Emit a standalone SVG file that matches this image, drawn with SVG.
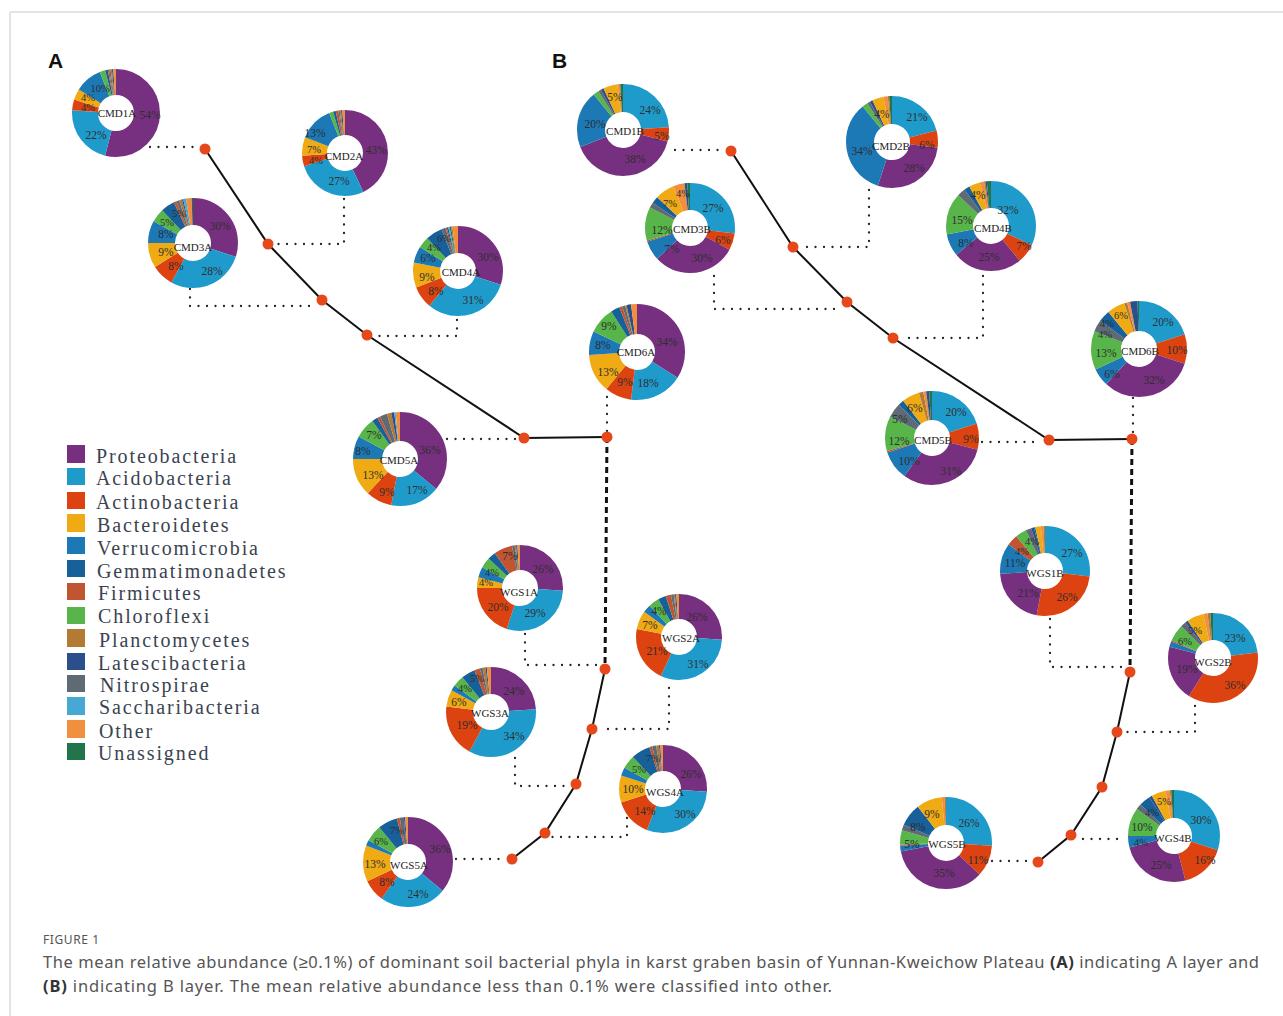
<svg xmlns="http://www.w3.org/2000/svg" width="1283" height="1016" viewBox="0 0 1283 1016">
<style>
circle{fill:none}
.pr{stroke:#77307F}.ac{stroke:#1F9BCB}.an{stroke:#DC4310}.bc{stroke:#EFAA14}.ve{stroke:#1D78B6}.ge{stroke:#18609A}.fi{stroke:#BF5531}.ch{stroke:#57B549}.pl{stroke:#B27A33}.la{stroke:#2B4F8C}.ni{stroke:#5E6A74}.sa{stroke:#48A8D4}.ot{stroke:#F18F3E}.un{stroke:#22744A}
.lb{font-family:"Liberation Serif","Times New Roman",serif;font-size:11.5px;fill:#2e2e2e;text-anchor:middle;dominant-baseline:central}
.sm{font-size:10.5px}
.nm{font-family:"Liberation Serif","Times New Roman",serif;font-size:11px;fill:#222;text-anchor:middle;dominant-baseline:central}
.tree{stroke:#111;stroke-width:2;fill:none}
.dash{stroke:#111;stroke-width:3;stroke-dasharray:6 4;fill:none}
.dl{stroke:#222;stroke-width:2.3;stroke-linecap:round;stroke-dasharray:0 8.5;fill:none}
.dot circle{fill:#E6471B}
.lg{font-family:"Liberation Serif","Times New Roman",serif;font-size:20px;letter-spacing:1.9px;fill:#3b4350}
.pan{font-family:"Liberation Sans",Arial,sans-serif;font-size:21px;font-weight:bold;fill:#111}
.cap{font-family:"Noto Sans","Liberation Sans",sans-serif;font-size:16.5px;fill:#555}
</style>
<rect width="1283" height="1016" fill="#fff"/>
<path d="M10,1016 V12 H1283" fill="none" stroke="#c8c8c8" stroke-width="1"/>
<text class="pan" x="48" y="68">A</text>
<text class="pan" x="552" y="68">B</text>

<g id="connectors">
<polyline class="tree" points="205,149 268,244 322,300 367,335 524,438 607,437"/>
<line class="dash" x1="607" y1="437" x2="605" y2="669"/>
<polyline class="tree" points="605,669 592,729 576,784 545,833 512,859"/>
<polyline class="tree" points="731,151 793,247 847,302 893,338 1049,440 1132,439"/>
<line class="dash" x1="1132" y1="439" x2="1130" y2="672"/>
<polyline class="tree" points="1130,672 1117,732 1102,787 1071,835 1038,862"/>
<path class="dl" d="M150,147 H200"/>
<path class="dl" d="M344,199 V244 H276"/>
<path class="dl" d="M190,289 V306 H316"/>
<path class="dl" d="M457,320 V336 H374"/>
<path class="dl" d="M447,439 H516"/>
<path class="dl" d="M607,397 V432"/>
<path class="dl" d="M525,634 V665 H598"/>
<path class="dl" d="M669,688 V729 H600"/>
<path class="dl" d="M515,758 V786 H568"/>
<path class="dl" d="M627,818 V837 H552"/>
<path class="dl" d="M456,859 H504"/>
<path class="dl" d="M675,150 H724"/>
<path class="dl" d="M869,190 V247 H801"/>
<path class="dl" d="M714,276 V309 H839"/>
<path class="dl" d="M983,276 V338 H901"/>
<path class="dl" d="M982,442 H1041"/>
<path class="dl" d="M1133,398 V433"/>
<path class="dl" d="M1050,619 V667 H1124"/>
<path class="dl" d="M1195,706 V732 H1125"/>
<path class="dl" d="M1083,839 H1120"/>
<path class="dl" d="M992,861 H1030"/>
<g class="dot">
<circle cx="205" cy="149" r="5.5"/><circle cx="268" cy="244" r="5.5"/><circle cx="322" cy="300" r="5.5"/><circle cx="367" cy="335" r="5.5"/><circle cx="524" cy="438" r="5.5"/><circle cx="607" cy="437" r="5.5"/><circle cx="605" cy="669" r="5.5"/><circle cx="592" cy="729" r="5.5"/><circle cx="576" cy="784" r="5.5"/><circle cx="545" cy="833" r="5.5"/><circle cx="512" cy="859" r="5.5"/>
<circle cx="731" cy="151" r="5.5"/><circle cx="793" cy="247" r="5.5"/><circle cx="847" cy="302" r="5.5"/><circle cx="893" cy="338" r="5.5"/><circle cx="1049" cy="440" r="5.5"/><circle cx="1132" cy="439" r="5.5"/><circle cx="1130" cy="672" r="5.5"/><circle cx="1117" cy="732" r="5.5"/><circle cx="1102" cy="787" r="5.5"/><circle cx="1071" cy="835" r="5.5"/><circle cx="1038" cy="862" r="5.5"/>
</g>
</g>

<g id="CMD1A">
<g transform="translate(116,113) rotate(-90)" stroke-width="26">
<circle class="pr" r="31" pathLength="100" stroke-dasharray="54 100" stroke-dashoffset="0"/>
<circle class="ac" r="31" pathLength="100" stroke-dasharray="22 100" stroke-dashoffset="-54"/>
<circle class="an" r="31" pathLength="100" stroke-dasharray="4 100" stroke-dashoffset="-76"/>
<circle class="bc" r="31" pathLength="100" stroke-dasharray="4 100" stroke-dashoffset="-80"/>
<circle class="ve" r="31" pathLength="100" stroke-dasharray="10 100" stroke-dashoffset="-84"/>
<circle class="ch" r="31" pathLength="100" stroke-dasharray="2 100" stroke-dashoffset="-94"/>
<circle class="ge" r="31" pathLength="100" stroke-dasharray="1 100" stroke-dashoffset="-96"/>
<circle class="fi" r="31" pathLength="100" stroke-dasharray="0.5 100" stroke-dashoffset="-97"/>
<circle class="ni" r="31" pathLength="100" stroke-dasharray="0.5 100" stroke-dashoffset="-97.5"/>
<circle class="pl" r="31" pathLength="100" stroke-dasharray="0.5 100" stroke-dashoffset="-98"/>
<circle class="la" r="31" pathLength="100" stroke-dasharray="0.5 100" stroke-dashoffset="-98.5"/>
<circle class="ot" r="31" pathLength="100" stroke-dasharray="1 100" stroke-dashoffset="-99"/>
</g>
<text class="lb sm" x="100" y="88">10%</text><text class="lb sm" x="88" y="97.5">4%</text><text class="lb sm" x="88" y="107">4%</text>
<text class="nm" x="117" y="113">CMD1A</text><text class="lb" x="150" y="115">54%</text><text class="lb" x="96" y="135">22%</text>
</g>

<g id="CMD2A">
<g transform="translate(345,153) rotate(-90)" stroke-width="25">
<circle class="pr" r="30.5" pathLength="100" stroke-dasharray="43 100" stroke-dashoffset="0"/>
<circle class="ac" r="30.5" pathLength="100" stroke-dasharray="27 100" stroke-dashoffset="-43"/>
<circle class="an" r="30.5" pathLength="100" stroke-dasharray="4 100" stroke-dashoffset="-70"/>
<circle class="bc" r="30.5" pathLength="100" stroke-dasharray="7 100" stroke-dashoffset="-74"/>
<circle class="ve" r="30.5" pathLength="100" stroke-dasharray="13 100" stroke-dashoffset="-81"/>
<circle class="ch" r="30.5" pathLength="100" stroke-dasharray="1.5 100" stroke-dashoffset="-94"/>
<circle class="ge" r="30.5" pathLength="100" stroke-dasharray="1 100" stroke-dashoffset="-95.5"/>
<circle class="fi" r="30.5" pathLength="100" stroke-dasharray="1 100" stroke-dashoffset="-96.5"/>
<circle class="ni" r="30.5" pathLength="100" stroke-dasharray="0.5 100" stroke-dashoffset="-97.5"/>
<circle class="pl" r="30.5" pathLength="100" stroke-dasharray="0.5 100" stroke-dashoffset="-98"/>
<circle class="la" r="30.5" pathLength="100" stroke-dasharray="0.5 100" stroke-dashoffset="-98.5"/>
<circle class="ot" r="30.5" pathLength="100" stroke-dasharray="1 100" stroke-dashoffset="-99"/>
</g>
<text class="lb" x="315" y="133">13%</text><text class="lb sm" x="314" y="149">7%</text><text class="lb sm" x="316" y="160">4%</text>
<text class="nm" x="344" y="156">CMD2A</text><text class="lb" x="376" y="150">43%</text><text class="lb" x="339" y="181">27%</text>
</g>

<g id="CMD3A">
<g transform="translate(193,243) rotate(-90)" stroke-width="27">
<circle class="pr" r="31.5" pathLength="100" stroke-dasharray="30 100" stroke-dashoffset="0"/>
<circle class="ac" r="31.5" pathLength="100" stroke-dasharray="28 100" stroke-dashoffset="-30"/>
<circle class="an" r="31.5" pathLength="100" stroke-dasharray="8 100" stroke-dashoffset="-58"/>
<circle class="bc" r="31.5" pathLength="100" stroke-dasharray="9 100" stroke-dashoffset="-66"/>
<circle class="ve" r="31.5" pathLength="100" stroke-dasharray="8 100" stroke-dashoffset="-75"/>
<circle class="ch" r="31.5" pathLength="100" stroke-dasharray="5 100" stroke-dashoffset="-83"/>
<circle class="ge" r="31.5" pathLength="100" stroke-dasharray="5 100" stroke-dashoffset="-88"/>
<circle class="fi" r="31.5" pathLength="100" stroke-dasharray="1 100" stroke-dashoffset="-93"/>
<circle class="ni" r="31.5" pathLength="100" stroke-dasharray="1 100" stroke-dashoffset="-94"/>
<circle class="pl" r="31.5" pathLength="100" stroke-dasharray="1 100" stroke-dashoffset="-95"/>
<circle class="la" r="31.5" pathLength="100" stroke-dasharray="0.5 100" stroke-dashoffset="-96"/>
<circle class="sa" r="31.5" pathLength="100" stroke-dasharray="1 100" stroke-dashoffset="-96.5"/>
<circle class="ot" r="31.5" pathLength="100" stroke-dasharray="2 100" stroke-dashoffset="-97.5"/>
<circle class="un" r="31.5" pathLength="100" stroke-dasharray="0.5 100" stroke-dashoffset="-99.5"/>
</g>
<text class="lb" x="220" y="226">30%</text><text class="lb sm" x="179" y="213">5%</text><text class="lb sm" x="167" y="222.5">5%</text><text class="lb" x="166" y="234">8%</text>
<text class="nm" x="193" y="247">CMD3A</text><text class="lb" x="166" y="252">9%</text><text class="lb" x="176" y="266">8%</text><text class="lb" x="212" y="271">28%</text>
</g>

<g id="CMD4A">
<g transform="translate(458,271) rotate(-90)" stroke-width="27">
<circle class="pr" r="31.5" pathLength="100" stroke-dasharray="30 100" stroke-dashoffset="0"/>
<circle class="ac" r="31.5" pathLength="100" stroke-dasharray="31 100" stroke-dashoffset="-30"/>
<circle class="an" r="31.5" pathLength="100" stroke-dasharray="8 100" stroke-dashoffset="-61"/>
<circle class="bc" r="31.5" pathLength="100" stroke-dasharray="9 100" stroke-dashoffset="-69"/>
<circle class="ve" r="31.5" pathLength="100" stroke-dasharray="6 100" stroke-dashoffset="-78"/>
<circle class="ch" r="31.5" pathLength="100" stroke-dasharray="4 100" stroke-dashoffset="-84"/>
<circle class="ge" r="31.5" pathLength="100" stroke-dasharray="6 100" stroke-dashoffset="-88"/>
<circle class="ni" r="31.5" pathLength="100" stroke-dasharray="1.5 100" stroke-dashoffset="-94"/>
<circle class="fi" r="31.5" pathLength="100" stroke-dasharray="0.5 100" stroke-dashoffset="-95.5"/>
<circle class="la" r="31.5" pathLength="100" stroke-dasharray="0.5 100" stroke-dashoffset="-96"/>
<circle class="sa" r="31.5" pathLength="100" stroke-dasharray="0.5 100" stroke-dashoffset="-96.5"/>
<circle class="un" r="31.5" pathLength="100" stroke-dasharray="0.5 100" stroke-dashoffset="-97"/>
<circle class="pl" r="31.5" pathLength="100" stroke-dasharray="0.5 100" stroke-dashoffset="-97.5"/>
<circle class="ot" r="31.5" pathLength="100" stroke-dasharray="2 100" stroke-dashoffset="-98"/>
</g>
<text class="lb sm" x="444" y="238">6%</text><text class="lb sm" x="434" y="247.5">4%</text><text class="lb" x="488" y="257">30%</text><text class="lb" x="428" y="258">6%</text>
<text class="nm" x="461" y="272">CMD4A</text><text class="lb" x="427" y="277">9%</text><text class="lb" x="436" y="291">8%</text><text class="lb" x="473" y="300">31%</text>
</g>

<g id="CMD5A">
<g transform="translate(400,459) rotate(-90)" stroke-width="29">
<circle class="pr" r="32.5" pathLength="100" stroke-dasharray="36 100" stroke-dashoffset="0"/>
<circle class="ac" r="32.5" pathLength="100" stroke-dasharray="17 100" stroke-dashoffset="-36"/>
<circle class="an" r="32.5" pathLength="100" stroke-dasharray="9 100" stroke-dashoffset="-53"/>
<circle class="bc" r="32.5" pathLength="100" stroke-dasharray="13 100" stroke-dashoffset="-62"/>
<circle class="ve" r="32.5" pathLength="100" stroke-dasharray="8 100" stroke-dashoffset="-75"/>
<circle class="ch" r="32.5" pathLength="100" stroke-dasharray="7 100" stroke-dashoffset="-83"/>
<circle class="ge" r="32.5" pathLength="100" stroke-dasharray="2 100" stroke-dashoffset="-90"/>
<circle class="fi" r="32.5" pathLength="100" stroke-dasharray="1 100" stroke-dashoffset="-92"/>
<circle class="ni" r="32.5" pathLength="100" stroke-dasharray="2.5 100" stroke-dashoffset="-93"/>
<circle class="pl" r="32.5" pathLength="100" stroke-dasharray="1.5 100" stroke-dashoffset="-95.5"/>
<circle class="la" r="32.5" pathLength="100" stroke-dasharray="1 100" stroke-dashoffset="-97"/>
<circle class="sa" r="32.5" pathLength="100" stroke-dasharray="0.5 100" stroke-dashoffset="-98"/>
<circle class="ot" r="32.5" pathLength="100" stroke-dasharray="1.5 100" stroke-dashoffset="-98.5"/>
</g>
<text class="lb" x="374" y="435">7%</text><text class="lb" x="363" y="451">8%</text><text class="lb" x="430" y="450">36%</text>
<text class="nm" x="399" y="460">CMD5A</text><text class="lb" x="373" y="475">13%</text><text class="lb" x="387" y="492">9%</text><text class="lb" x="417" y="490">17%</text>
</g>

<g id="CMD6A">
<g transform="translate(637,352) rotate(-90)" stroke-width="30">
<circle class="pr" r="33" pathLength="100" stroke-dasharray="34 100" stroke-dashoffset="0"/>
<circle class="ac" r="33" pathLength="100" stroke-dasharray="18 100" stroke-dashoffset="-34"/>
<circle class="an" r="33" pathLength="100" stroke-dasharray="9 100" stroke-dashoffset="-52"/>
<circle class="bc" r="33" pathLength="100" stroke-dasharray="13 100" stroke-dashoffset="-61"/>
<circle class="ve" r="33" pathLength="100" stroke-dasharray="8 100" stroke-dashoffset="-74"/>
<circle class="ch" r="33" pathLength="100" stroke-dasharray="9 100" stroke-dashoffset="-82"/>
<circle class="ge" r="33" pathLength="100" stroke-dasharray="3 100" stroke-dashoffset="-91"/>
<circle class="fi" r="33" pathLength="100" stroke-dasharray="1 100" stroke-dashoffset="-94"/>
<circle class="ni" r="33" pathLength="100" stroke-dasharray="1 100" stroke-dashoffset="-95"/>
<circle class="pl" r="33" pathLength="100" stroke-dasharray="0.5 100" stroke-dashoffset="-96"/>
<circle class="la" r="33" pathLength="100" stroke-dasharray="1.5 100" stroke-dashoffset="-96.5"/>
<circle class="ot" r="33" pathLength="100" stroke-dasharray="2 100" stroke-dashoffset="-98"/>
</g>
<text class="lb" x="609" y="326">9%</text><text class="lb" x="667" y="342">34%</text><text class="lb" x="603" y="345">8%</text>
<text class="nm" x="636" y="352">CMD6A</text><text class="lb" x="608" y="372">13%</text><text class="lb" x="625" y="382">9%</text><text class="lb" x="648" y="383">18%</text>
</g>

<g id="WGS1A">
<g transform="translate(520,588) rotate(-90)" stroke-width="25">
<circle class="pr" r="30.5" pathLength="100" stroke-dasharray="26 100" stroke-dashoffset="0"/>
<circle class="ac" r="30.5" pathLength="100" stroke-dasharray="29 100" stroke-dashoffset="-26"/>
<circle class="an" r="30.5" pathLength="100" stroke-dasharray="20 100" stroke-dashoffset="-55"/>
<circle class="bc" r="30.5" pathLength="100" stroke-dasharray="4 100" stroke-dashoffset="-75"/>
<circle class="ve" r="30.5" pathLength="100" stroke-dasharray="4 100" stroke-dashoffset="-79"/>
<circle class="ch" r="30.5" pathLength="100" stroke-dasharray="4 100" stroke-dashoffset="-83"/>
<circle class="ge" r="30.5" pathLength="100" stroke-dasharray="3 100" stroke-dashoffset="-87"/>
<circle class="fi" r="30.5" pathLength="100" stroke-dasharray="7 100" stroke-dashoffset="-90"/>
<circle class="ni" r="30.5" pathLength="100" stroke-dasharray="1 100" stroke-dashoffset="-97"/>
<circle class="pl" r="30.5" pathLength="100" stroke-dasharray="0.5 100" stroke-dashoffset="-98"/>
<circle class="la" r="30.5" pathLength="100" stroke-dasharray="0.5 100" stroke-dashoffset="-98.5"/>
<circle class="ot" r="30.5" pathLength="100" stroke-dasharray="1 100" stroke-dashoffset="-99"/>
</g>
<text class="lb" x="510" y="556">7%</text><text class="lb" x="543" y="569">26%</text><text class="lb sm" x="492" y="572">4%</text><text class="lb sm" x="486" y="582.5">4%</text>
<text class="nm" x="519" y="592">WGS1A</text><text class="lb" x="498" y="607">20%</text><text class="lb" x="535" y="613">29%</text>
</g>

<g id="WGS2A">
<g transform="translate(679,637) rotate(-90)" stroke-width="25">
<circle class="pr" r="30.5" pathLength="100" stroke-dasharray="26 100" stroke-dashoffset="0"/>
<circle class="ac" r="30.5" pathLength="100" stroke-dasharray="31 100" stroke-dashoffset="-26"/>
<circle class="an" r="30.5" pathLength="100" stroke-dasharray="21 100" stroke-dashoffset="-57"/>
<circle class="bc" r="30.5" pathLength="100" stroke-dasharray="7 100" stroke-dashoffset="-78"/>
<circle class="ve" r="30.5" pathLength="100" stroke-dasharray="3 100" stroke-dashoffset="-85"/>
<circle class="ch" r="30.5" pathLength="100" stroke-dasharray="4 100" stroke-dashoffset="-88"/>
<circle class="ge" r="30.5" pathLength="100" stroke-dasharray="3 100" stroke-dashoffset="-92"/>
<circle class="fi" r="30.5" pathLength="100" stroke-dasharray="2 100" stroke-dashoffset="-95"/>
<circle class="ni" r="30.5" pathLength="100" stroke-dasharray="1 100" stroke-dashoffset="-97"/>
<circle class="pl" r="30.5" pathLength="100" stroke-dasharray="0.5 100" stroke-dashoffset="-98"/>
<circle class="la" r="30.5" pathLength="100" stroke-dasharray="0.5 100" stroke-dashoffset="-98.5"/>
<circle class="ot" r="30.5" pathLength="100" stroke-dasharray="1 100" stroke-dashoffset="-99"/>
</g>
<text class="lb" x="659" y="611">4%</text><text class="lb" x="697" y="617">26%</text><text class="lb" x="650" y="625">7%</text>
<text class="nm" x="681" y="638">WGS2A</text><text class="lb" x="657" y="651">21%</text><text class="lb" x="698" y="664">31%</text>
</g>

<g id="WGS3A">
<g transform="translate(491,712) rotate(-90)" stroke-width="27">
<circle class="pr" r="31.5" pathLength="100" stroke-dasharray="24 100" stroke-dashoffset="0"/>
<circle class="ac" r="31.5" pathLength="100" stroke-dasharray="34 100" stroke-dashoffset="-24"/>
<circle class="an" r="31.5" pathLength="100" stroke-dasharray="19 100" stroke-dashoffset="-58"/>
<circle class="bc" r="31.5" pathLength="100" stroke-dasharray="6 100" stroke-dashoffset="-77"/>
<circle class="ve" r="31.5" pathLength="100" stroke-dasharray="2 100" stroke-dashoffset="-83"/>
<circle class="ch" r="31.5" pathLength="100" stroke-dasharray="4 100" stroke-dashoffset="-85"/>
<circle class="ge" r="31.5" pathLength="100" stroke-dasharray="5 100" stroke-dashoffset="-89"/>
<circle class="fi" r="31.5" pathLength="100" stroke-dasharray="2 100" stroke-dashoffset="-94"/>
<circle class="ni" r="31.5" pathLength="100" stroke-dasharray="1 100" stroke-dashoffset="-96"/>
<circle class="pl" r="31.5" pathLength="100" stroke-dasharray="1 100" stroke-dashoffset="-97"/>
<circle class="la" r="31.5" pathLength="100" stroke-dasharray="0.5 100" stroke-dashoffset="-98"/>
<circle class="ot" r="31.5" pathLength="100" stroke-dasharray="1.5 100" stroke-dashoffset="-98.5"/>
</g>
<text class="lb sm" x="477" y="678">5%</text><text class="lb sm" x="465" y="688">4%</text><text class="lb" x="514" y="691">24%</text><text class="lb" x="459" y="702">6%</text>
<text class="nm" x="490" y="713">WGS3A</text><text class="lb" x="467" y="725">19%</text><text class="lb" x="514" y="736">34%</text>
</g>

<g id="WGS4A">
<g transform="translate(663,789) rotate(-90)" stroke-width="26">
<circle class="pr" r="31" pathLength="100" stroke-dasharray="26 100" stroke-dashoffset="0"/>
<circle class="ac" r="31" pathLength="100" stroke-dasharray="30 100" stroke-dashoffset="-26"/>
<circle class="an" r="31" pathLength="100" stroke-dasharray="14 100" stroke-dashoffset="-56"/>
<circle class="bc" r="31" pathLength="100" stroke-dasharray="10 100" stroke-dashoffset="-70"/>
<circle class="ve" r="31" pathLength="100" stroke-dasharray="3 100" stroke-dashoffset="-80"/>
<circle class="ch" r="31" pathLength="100" stroke-dasharray="5 100" stroke-dashoffset="-83"/>
<circle class="ge" r="31" pathLength="100" stroke-dasharray="7 100" stroke-dashoffset="-88"/>
<circle class="fi" r="31" pathLength="100" stroke-dasharray="1 100" stroke-dashoffset="-95"/>
<circle class="ni" r="31" pathLength="100" stroke-dasharray="1.5 100" stroke-dashoffset="-96"/>
<circle class="pl" r="31" pathLength="100" stroke-dasharray="1 100" stroke-dashoffset="-97.5"/>
<circle class="la" r="31" pathLength="100" stroke-dasharray="0.5 100" stroke-dashoffset="-98.5"/>
<circle class="ot" r="31" pathLength="100" stroke-dasharray="1 100" stroke-dashoffset="-99"/>
</g>
<text class="lb sm" x="653" y="758">7%</text><text class="lb sm" x="639" y="769">5%</text><text class="lb" x="691" y="774">26%</text><text class="lb" x="633" y="789">10%</text>
<text class="nm" x="665" y="792">WGS4A</text><text class="lb" x="645" y="811">14%</text><text class="lb" x="685" y="814">30%</text>
</g>

<g id="WGS5A">
<g transform="translate(408,862) rotate(-90)" stroke-width="27">
<circle class="pr" r="31.5" pathLength="100" stroke-dasharray="36 100" stroke-dashoffset="0"/>
<circle class="ac" r="31.5" pathLength="100" stroke-dasharray="24 100" stroke-dashoffset="-36"/>
<circle class="an" r="31.5" pathLength="100" stroke-dasharray="8 100" stroke-dashoffset="-60"/>
<circle class="bc" r="31.5" pathLength="100" stroke-dasharray="13 100" stroke-dashoffset="-68"/>
<circle class="ve" r="31.5" pathLength="100" stroke-dasharray="2 100" stroke-dashoffset="-81"/>
<circle class="ch" r="31.5" pathLength="100" stroke-dasharray="6 100" stroke-dashoffset="-83"/>
<circle class="ge" r="31.5" pathLength="100" stroke-dasharray="7 100" stroke-dashoffset="-89"/>
<circle class="fi" r="31.5" pathLength="100" stroke-dasharray="1 100" stroke-dashoffset="-96"/>
<circle class="ni" r="31.5" pathLength="100" stroke-dasharray="1.5 100" stroke-dashoffset="-97"/>
<circle class="la" r="31.5" pathLength="100" stroke-dasharray="0.5 100" stroke-dashoffset="-98.5"/>
<circle class="ot" r="31.5" pathLength="100" stroke-dasharray="1 100" stroke-dashoffset="-99"/>
</g>
<text class="lb sm" x="397" y="830">7%</text><text class="lb sm" x="381" y="841">6%</text><text class="lb" x="440" y="849">36%</text><text class="lb" x="375" y="864">13%</text>
<text class="nm" x="409" y="865">WGS5A</text><text class="lb" x="387" y="882">8%</text><text class="lb" x="418" y="894">24%</text>
</g>

<g id="CMD1B">
<g transform="translate(623,130) rotate(-90)" stroke-width="28">
<circle class="ac" r="32" pathLength="100" stroke-dasharray="24 100" stroke-dashoffset="0"/>
<circle class="an" r="32" pathLength="100" stroke-dasharray="5 100" stroke-dashoffset="-24"/>
<circle class="pr" r="32" pathLength="100" stroke-dasharray="40 100" stroke-dashoffset="-29"/>
<circle class="ve" r="32" pathLength="100" stroke-dasharray="20 100" stroke-dashoffset="-69"/>
<circle class="ch" r="32" pathLength="100" stroke-dasharray="2 100" stroke-dashoffset="-89"/>
<circle class="ni" r="32" pathLength="100" stroke-dasharray="1 100" stroke-dashoffset="-91"/>
<circle class="la" r="32" pathLength="100" stroke-dasharray="1 100" stroke-dashoffset="-92"/>
<circle class="bc" r="32" pathLength="100" stroke-dasharray="5 100" stroke-dashoffset="-93"/>
<circle class="ot" r="32" pathLength="100" stroke-dasharray="1 100" stroke-dashoffset="-98"/>
<circle class="un" r="32" pathLength="100" stroke-dasharray="1 100" stroke-dashoffset="-99"/>
</g>
<text class="lb" x="615" y="97">5%</text><text class="lb" x="650" y="110">24%</text><text class="lb" x="595" y="124">20%</text>
<text class="nm" x="625" y="131">CMD1B</text><text class="lb" x="662" y="136">5%</text><text class="lb" x="635" y="159">38%</text>
</g>

<g id="CMD2B">
<g transform="translate(892,142) rotate(-90)" stroke-width="28">
<circle class="ac" r="32" pathLength="100" stroke-dasharray="21 100" stroke-dashoffset="0"/>
<circle class="an" r="32" pathLength="100" stroke-dasharray="6 100" stroke-dashoffset="-21"/>
<circle class="pr" r="32" pathLength="100" stroke-dasharray="28 100" stroke-dashoffset="-27"/>
<circle class="ve" r="32" pathLength="100" stroke-dasharray="34 100" stroke-dashoffset="-55"/>
<circle class="ch" r="32" pathLength="100" stroke-dasharray="2 100" stroke-dashoffset="-89"/>
<circle class="ni" r="32" pathLength="100" stroke-dasharray="1 100" stroke-dashoffset="-91"/>
<circle class="la" r="32" pathLength="100" stroke-dasharray="1 100" stroke-dashoffset="-92"/>
<circle class="bc" r="32" pathLength="100" stroke-dasharray="4 100" stroke-dashoffset="-93"/>
<circle class="ot" r="32" pathLength="100" stroke-dasharray="1.5 100" stroke-dashoffset="-97"/>
<circle class="pl" r="32" pathLength="100" stroke-dasharray="0.5 100" stroke-dashoffset="-98.5"/>
<circle class="un" r="32" pathLength="100" stroke-dasharray="1 100" stroke-dashoffset="-99"/>
</g>
<text class="lb" x="882" y="114">4%</text><text class="lb" x="917" y="117">21%</text>
<text class="nm" x="891" y="146">CMD2B</text><text class="lb" x="862" y="151">34%</text><text class="lb" x="927" y="145">6%</text><text class="lb" x="914" y="168">28%</text>
</g>

<g id="CMD3B">
<g transform="translate(690,228) rotate(-90)" stroke-width="27">
<circle class="ac" r="31.5" pathLength="100" stroke-dasharray="27 100" stroke-dashoffset="0"/>
<circle class="an" r="31.5" pathLength="100" stroke-dasharray="6 100" stroke-dashoffset="-27"/>
<circle class="pr" r="31.5" pathLength="100" stroke-dasharray="30 100" stroke-dashoffset="-33"/>
<circle class="ve" r="31.5" pathLength="100" stroke-dasharray="7 100" stroke-dashoffset="-63"/>
<circle class="fi" r="31.5" pathLength="100" stroke-dasharray="0.5 100" stroke-dashoffset="-70"/>
<circle class="ch" r="31.5" pathLength="100" stroke-dasharray="12 100" stroke-dashoffset="-70.5"/>
<circle class="ni" r="31.5" pathLength="100" stroke-dasharray="2 100" stroke-dashoffset="-82.5"/>
<circle class="ge" r="31.5" pathLength="100" stroke-dasharray="2.5 100" stroke-dashoffset="-84.5"/>
<circle class="bc" r="31.5" pathLength="100" stroke-dasharray="7 100" stroke-dashoffset="-87"/>
<circle class="ot" r="31.5" pathLength="100" stroke-dasharray="4 100" stroke-dashoffset="-94"/>
<circle class="la" r="31.5" pathLength="100" stroke-dasharray="1 100" stroke-dashoffset="-98"/>
<circle class="un" r="31.5" pathLength="100" stroke-dasharray="1 100" stroke-dashoffset="-99"/>
</g>
<text class="lb sm" x="683" y="193">4%</text><text class="lb sm" x="670" y="203">7%</text><text class="lb" x="713" y="208">27%</text><text class="lb" x="662" y="230">12%</text>
<text class="nm" x="692" y="229">CMD3B</text><text class="lb" x="723" y="240">6%</text><text class="lb" x="672" y="249">7%</text><text class="lb" x="702" y="258">30%</text>
</g>

<g id="CMD4B">
<g transform="translate(991,226) rotate(-90)" stroke-width="27">
<circle class="ac" r="31.5" pathLength="100" stroke-dasharray="32 100" stroke-dashoffset="0"/>
<circle class="an" r="31.5" pathLength="100" stroke-dasharray="7 100" stroke-dashoffset="-32"/>
<circle class="pr" r="31.5" pathLength="100" stroke-dasharray="25 100" stroke-dashoffset="-39"/>
<circle class="ve" r="31.5" pathLength="100" stroke-dasharray="8 100" stroke-dashoffset="-64"/>
<circle class="ch" r="31.5" pathLength="100" stroke-dasharray="15 100" stroke-dashoffset="-72"/>
<circle class="ni" r="31.5" pathLength="100" stroke-dasharray="3 100" stroke-dashoffset="-87"/>
<circle class="ge" r="31.5" pathLength="100" stroke-dasharray="2 100" stroke-dashoffset="-90"/>
<circle class="bc" r="31.5" pathLength="100" stroke-dasharray="4 100" stroke-dashoffset="-92"/>
<circle class="ot" r="31.5" pathLength="100" stroke-dasharray="1.5 100" stroke-dashoffset="-96"/>
<circle class="pl" r="31.5" pathLength="100" stroke-dasharray="0.5 100" stroke-dashoffset="-97.5"/>
<circle class="la" r="31.5" pathLength="100" stroke-dasharray="0.5 100" stroke-dashoffset="-98"/>
<circle class="un" r="31.5" pathLength="100" stroke-dasharray="1.5 100" stroke-dashoffset="-98.5"/>
</g>
<text class="lb" x="978" y="195">4%</text><text class="lb" x="1008" y="210">32%</text><text class="lb" x="962" y="220">15%</text>
<text class="nm" x="993" y="228">CMD4B</text><text class="lb" x="966" y="243">8%</text><text class="lb" x="1024" y="246">7%</text><text class="lb" x="989" y="257">25%</text>
</g>

<g id="CMD5B">
<g transform="translate(932,438) rotate(-90)" stroke-width="29">
<circle class="ac" r="32.5" pathLength="100" stroke-dasharray="20 100" stroke-dashoffset="0"/>
<circle class="an" r="32.5" pathLength="100" stroke-dasharray="9 100" stroke-dashoffset="-20"/>
<circle class="pr" r="32.5" pathLength="100" stroke-dasharray="31 100" stroke-dashoffset="-29"/>
<circle class="ve" r="32.5" pathLength="100" stroke-dasharray="10 100" stroke-dashoffset="-60"/>
<circle class="fi" r="32.5" pathLength="100" stroke-dasharray="0.5 100" stroke-dashoffset="-70"/>
<circle class="ch" r="32.5" pathLength="100" stroke-dasharray="12 100" stroke-dashoffset="-70.5"/>
<circle class="ni" r="32.5" pathLength="100" stroke-dasharray="5 100" stroke-dashoffset="-82.5"/>
<circle class="ge" r="32.5" pathLength="100" stroke-dasharray="2 100" stroke-dashoffset="-87.5"/>
<circle class="bc" r="32.5" pathLength="100" stroke-dasharray="6 100" stroke-dashoffset="-89.5"/>
<circle class="pl" r="32.5" pathLength="100" stroke-dasharray="1.5 100" stroke-dashoffset="-95.5"/>
<circle class="ot" r="32.5" pathLength="100" stroke-dasharray="1 100" stroke-dashoffset="-97"/>
<circle class="la" r="32.5" pathLength="100" stroke-dasharray="1 100" stroke-dashoffset="-98"/>
<circle class="un" r="32.5" pathLength="100" stroke-dasharray="1 100" stroke-dashoffset="-99"/>
</g>
<text class="lb" x="915" y="408">6%</text><text class="lb" x="956" y="412">20%</text><text class="lb" x="900" y="419">5%</text><text class="lb" x="899" y="441">12%</text>
<text class="nm" x="933" y="440">CMD5B</text><text class="lb" x="971" y="439">9%</text><text class="lb" x="909" y="461">10%</text><text class="lb" x="951" y="471">31%</text>
</g>

<g id="CMD6B">
<g transform="translate(1139,349) rotate(-90)" stroke-width="30">
<circle class="ac" r="33" pathLength="100" stroke-dasharray="20 100" stroke-dashoffset="0"/>
<circle class="an" r="33" pathLength="100" stroke-dasharray="10 100" stroke-dashoffset="-20"/>
<circle class="pr" r="33" pathLength="100" stroke-dasharray="32 100" stroke-dashoffset="-30"/>
<circle class="ve" r="33" pathLength="100" stroke-dasharray="6 100" stroke-dashoffset="-62"/>
<circle class="ch" r="33" pathLength="100" stroke-dasharray="13 100" stroke-dashoffset="-68"/>
<circle class="ni" r="33" pathLength="100" stroke-dasharray="4 100" stroke-dashoffset="-81"/>
<circle class="ge" r="33" pathLength="100" stroke-dasharray="4 100" stroke-dashoffset="-85"/>
<circle class="bc" r="33" pathLength="100" stroke-dasharray="6 100" stroke-dashoffset="-89"/>
<circle class="pl" r="33" pathLength="100" stroke-dasharray="1 100" stroke-dashoffset="-95"/>
<circle class="ot" r="33" pathLength="100" stroke-dasharray="1 100" stroke-dashoffset="-96"/>
<circle class="la" r="33" pathLength="100" stroke-dasharray="2.5 100" stroke-dashoffset="-97"/>
<circle class="un" r="33" pathLength="100" stroke-dasharray="0.5 100" stroke-dashoffset="-99.5"/>
</g>
<text class="lb sm" x="1107" y="323">4%</text><text class="lb sm" x="1121" y="315">6%</text><text class="lb" x="1163" y="322">20%</text><text class="lb sm" x="1105" y="334">4%</text><text class="lb" x="1106" y="353">13%</text>
<text class="nm" x="1140" y="351">CMD6B</text><text class="lb" x="1177" y="350">10%</text><text class="lb" x="1112" y="374">6%</text><text class="lb" x="1154" y="380">32%</text>
</g>

<g id="WGS1B">
<g transform="translate(1045,571) rotate(-90)" stroke-width="27">
<circle class="ac" r="31.5" pathLength="100" stroke-dasharray="27 100" stroke-dashoffset="0"/>
<circle class="an" r="31.5" pathLength="100" stroke-dasharray="26 100" stroke-dashoffset="-27"/>
<circle class="pr" r="31.5" pathLength="100" stroke-dasharray="21 100" stroke-dashoffset="-53"/>
<circle class="ve" r="31.5" pathLength="100" stroke-dasharray="11 100" stroke-dashoffset="-74"/>
<circle class="fi" r="31.5" pathLength="100" stroke-dasharray="4 100" stroke-dashoffset="-85"/>
<circle class="ch" r="31.5" pathLength="100" stroke-dasharray="4 100" stroke-dashoffset="-89"/>
<circle class="ni" r="31.5" pathLength="100" stroke-dasharray="2 100" stroke-dashoffset="-93"/>
<circle class="la" r="31.5" pathLength="100" stroke-dasharray="1 100" stroke-dashoffset="-95"/>
<circle class="ge" r="31.5" pathLength="100" stroke-dasharray="0.5 100" stroke-dashoffset="-96"/>
<circle class="bc" r="31.5" pathLength="100" stroke-dasharray="2 100" stroke-dashoffset="-96.5"/>
<circle class="ot" r="31.5" pathLength="100" stroke-dasharray="1 100" stroke-dashoffset="-98.5"/>
<circle class="pl" r="31.5" pathLength="100" stroke-dasharray="0.5 100" stroke-dashoffset="-99.5"/>
</g>
<text class="lb sm" x="1032" y="541">4%</text><text class="lb sm" x="1022" y="551.5">4%</text><text class="lb" x="1072" y="553">27%</text><text class="lb" x="1015" y="563">11%</text>
<text class="nm" x="1045" y="573">WGS1B</text><text class="lb" x="1028" y="593">21%</text><text class="lb" x="1067" y="597">26%</text>
</g>

<g id="WGS2B">
<g transform="translate(1213,658) rotate(-90)" stroke-width="27">
<circle class="ac" r="31.5" pathLength="100" stroke-dasharray="23 100" stroke-dashoffset="0"/>
<circle class="an" r="31.5" pathLength="100" stroke-dasharray="36 100" stroke-dashoffset="-23"/>
<circle class="pr" r="31.5" pathLength="100" stroke-dasharray="20 100" stroke-dashoffset="-59"/>
<circle class="ve" r="31.5" pathLength="100" stroke-dasharray="2 100" stroke-dashoffset="-79"/>
<circle class="fi" r="31.5" pathLength="100" stroke-dasharray="0.5 100" stroke-dashoffset="-81"/>
<circle class="ch" r="31.5" pathLength="100" stroke-dasharray="6 100" stroke-dashoffset="-81.5"/>
<circle class="ni" r="31.5" pathLength="100" stroke-dasharray="2 100" stroke-dashoffset="-87.5"/>
<circle class="la" r="31.5" pathLength="100" stroke-dasharray="1 100" stroke-dashoffset="-89.5"/>
<circle class="bc" r="31.5" pathLength="100" stroke-dasharray="6 100" stroke-dashoffset="-90.5"/>
<circle class="ot" r="31.5" pathLength="100" stroke-dasharray="1.5 100" stroke-dashoffset="-96.5"/>
<circle class="pl" r="31.5" pathLength="100" stroke-dasharray="1 100" stroke-dashoffset="-98"/>
<circle class="un" r="31.5" pathLength="100" stroke-dasharray="1 100" stroke-dashoffset="-99"/>
</g>
<text class="lb sm" x="1195" y="630">5%</text><text class="lb" x="1235" y="638">23%</text><text class="lb sm" x="1185" y="641">6%</text>
<text class="nm" x="1213" y="662">WGS2B</text><text class="lb" x="1187" y="669">19%</text><text class="lb" x="1235" y="685">36%</text>
</g>

<g id="WGS4B">
<g transform="translate(1174,836) rotate(-90)" stroke-width="28">
<circle class="ac" r="32" pathLength="100" stroke-dasharray="30 100" stroke-dashoffset="0"/>
<circle class="an" r="32" pathLength="100" stroke-dasharray="16 100" stroke-dashoffset="-30"/>
<circle class="pr" r="32" pathLength="100" stroke-dasharray="25 100" stroke-dashoffset="-46"/>
<circle class="ve" r="32" pathLength="100" stroke-dasharray="4 100" stroke-dashoffset="-71"/>
<circle class="ch" r="32" pathLength="100" stroke-dasharray="10 100" stroke-dashoffset="-75"/>
<circle class="ni" r="32" pathLength="100" stroke-dasharray="2 100" stroke-dashoffset="-85"/>
<circle class="ge" r="32" pathLength="100" stroke-dasharray="4 100" stroke-dashoffset="-87"/>
<circle class="la" r="32" pathLength="100" stroke-dasharray="1 100" stroke-dashoffset="-91"/>
<circle class="bc" r="32" pathLength="100" stroke-dasharray="5 100" stroke-dashoffset="-92"/>
<circle class="ot" r="32" pathLength="100" stroke-dasharray="1.5 100" stroke-dashoffset="-97"/>
<circle class="pl" r="32" pathLength="100" stroke-dasharray="0.5 100" stroke-dashoffset="-98.5"/>
<circle class="un" r="32" pathLength="100" stroke-dasharray="1 100" stroke-dashoffset="-99"/>
</g>
<text class="lb sm" x="1164" y="801">5%</text><text class="lb sm" x="1152" y="812">4%</text><text class="lb" x="1201" y="820">30%</text><text class="lb" x="1142" y="827">10%</text>
<text class="nm" x="1173" y="838">WGS4B</text><text class="lb sm" x="1141" y="842">4%</text><text class="lb" x="1205" y="860">16%</text><text class="lb" x="1161" y="865">25%</text>
</g>

<g id="WGS5B">
<g transform="translate(946,843) rotate(-90)" stroke-width="28">
<circle class="ac" r="32" pathLength="100" stroke-dasharray="26 100" stroke-dashoffset="0"/>
<circle class="an" r="32" pathLength="100" stroke-dasharray="11 100" stroke-dashoffset="-26"/>
<circle class="pr" r="32" pathLength="100" stroke-dasharray="35 100" stroke-dashoffset="-37"/>
<circle class="ve" r="32" pathLength="100" stroke-dasharray="2 100" stroke-dashoffset="-72"/>
<circle class="fi" r="32" pathLength="100" stroke-dasharray="0.5 100" stroke-dashoffset="-74"/>
<circle class="ch" r="32" pathLength="100" stroke-dasharray="5 100" stroke-dashoffset="-74.5"/>
<circle class="ni" r="32" pathLength="100" stroke-dasharray="2 100" stroke-dashoffset="-79.5"/>
<circle class="ge" r="32" pathLength="100" stroke-dasharray="8 100" stroke-dashoffset="-81.5"/>
<circle class="bc" r="32" pathLength="100" stroke-dasharray="9 100" stroke-dashoffset="-89.5"/>
<circle class="ot" r="32" pathLength="100" stroke-dasharray="1 100" stroke-dashoffset="-98.5"/>
<circle class="pl" r="32" pathLength="100" stroke-dasharray="0.5 100" stroke-dashoffset="-99.5"/>
</g>
<text class="lb" x="932" y="814">9%</text><text class="lb" x="969" y="823">26%</text><text class="lb" x="918" y="827">8%</text><text class="lb" x="912" y="844">5%</text>
<text class="nm" x="947" y="844">WGS5B</text><text class="lb" x="978" y="860">11%</text><text class="lb" x="944" y="873">35%</text>
</g>

<g id="legend">
<rect x="67" y="445" width="18" height="18" fill="#77307F"/><text class="lg" x="96" y="463">Proteobacteria</text>
<rect x="67" y="468" width="18" height="17" fill="#1F9BCB"/><text class="lg" x="96" y="485">Acidobacteria</text>
<rect x="67" y="492" width="18" height="17" fill="#DC4310"/><text class="lg" x="96" y="509">Actinobacteria</text>
<rect x="67" y="514" width="18" height="18" fill="#EFAA14"/><text class="lg" x="97" y="532">Bacteroidetes</text>
<rect x="67" y="537" width="18" height="17" fill="#1D78B6"/><text class="lg" x="97" y="555">Verrucomicrobia</text>
<rect x="67" y="560" width="18" height="17" fill="#18609A"/><text class="lg" x="97" y="578">Gemmatimonadetes</text>
<rect x="67" y="583" width="18" height="17" fill="#BF5531"/><text class="lg" x="98" y="600">Firmicutes</text>
<rect x="67" y="607" width="18" height="17" fill="#57B549"/><text class="lg" x="98" y="623">Chloroflexi</text>
<rect x="67" y="629" width="18" height="18" fill="#B27A33"/><text class="lg" x="99" y="647">Planctomycetes</text>
<rect x="67" y="653" width="18" height="17" fill="#2B4F8C"/><text class="lg" x="98" y="670">Latescibacteria</text>
<rect x="67" y="675" width="18" height="17" fill="#5E6A74"/><text class="lg" x="100" y="692">Nitrospirae</text>
<rect x="67" y="697" width="18" height="18" fill="#48A8D4"/><text class="lg" x="99" y="714">Saccharibacteria</text>
<rect x="67" y="720" width="18" height="18" fill="#F18F3E"/><text class="lg" x="99" y="738">Other</text>
<rect x="67" y="743" width="18" height="17" fill="#22744A"/><text class="lg" x="98" y="760">Unassigned</text>
</g>

<g id="caption">
<text x="43" y="944" font-family="Noto Sans, Liberation Sans, sans-serif" font-size="12" letter-spacing="0.6" fill="#555">FIGURE 1</text>
<text class="cap" x="43" y="968" textLength="1216" lengthAdjust="spacing">The mean relative abundance (≥0.1%) of dominant soil bacterial phyla in karst graben basin of Yunnan-Kweichow Plateau <tspan font-weight="bold" fill="#333">(A)</tspan> indicating A layer and</text>
<text class="cap" x="43" y="992" textLength="789" lengthAdjust="spacing"><tspan font-weight="bold" fill="#333">(B)</tspan> indicating B layer. The mean relative abundance less than 0.1% were classified into other.</text>
</g>
</svg>
